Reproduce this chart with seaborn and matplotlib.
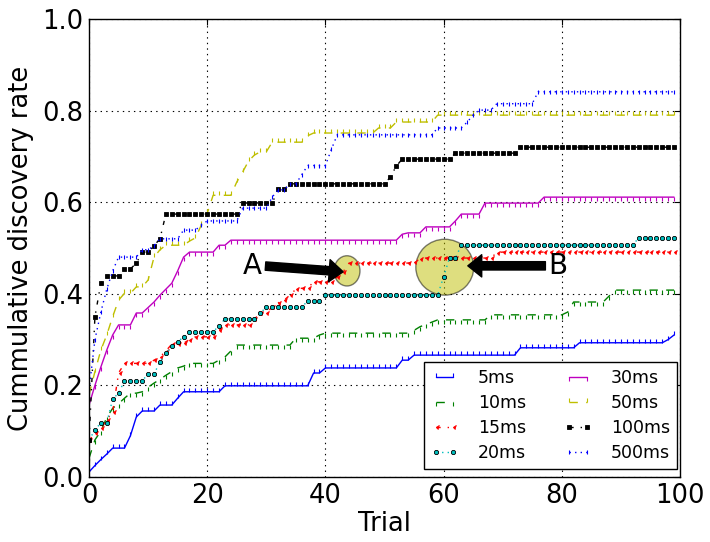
import numpy as np
import pandas as pd
import matplotlib
matplotlib.use("Agg")
import matplotlib.pyplot as plt
from matplotlib.patches import Ellipse
import seaborn as sns

# ---- data -----------------------------------------------------------------
trials = list(range(100))

rate_5ms = [
    0.011, 0.025, 0.038, 0.050, 0.063, 0.063, 0.063, 0.090, 0.131, 0.144,
    0.144, 0.144, 0.157, 0.157, 0.157, 0.172, 0.186, 0.186, 0.186, 0.186,
    0.186, 0.186, 0.186, 0.199, 0.199, 0.199, 0.199, 0.199, 0.199, 0.199,
    0.199, 0.199, 0.199, 0.199, 0.199, 0.199, 0.199, 0.199, 0.227, 0.227,
    0.238, 0.238, 0.238, 0.238, 0.238, 0.238, 0.238, 0.238, 0.238, 0.238,
    0.238, 0.238, 0.238, 0.255, 0.255, 0.266, 0.266, 0.266, 0.266, 0.266,
    0.266, 0.266, 0.266, 0.266, 0.266, 0.266, 0.266, 0.266, 0.266, 0.266,
    0.266, 0.266, 0.266, 0.282, 0.282, 0.282, 0.282, 0.282, 0.282, 0.282,
    0.282, 0.282, 0.282, 0.293, 0.293, 0.293, 0.293, 0.293, 0.293, 0.293,
    0.293, 0.293, 0.293, 0.293, 0.293, 0.293, 0.293, 0.293, 0.300, 0.310,
]
rate_10ms = [
    0.041, 0.081, 0.100, 0.130, 0.150, 0.160, 0.172, 0.183, 0.183, 0.186,
    0.196, 0.205, 0.213, 0.222, 0.230, 0.238, 0.242, 0.248, 0.248, 0.248,
    0.248, 0.248, 0.255, 0.262, 0.275, 0.288, 0.288, 0.288, 0.288, 0.288,
    0.288, 0.288, 0.288, 0.288, 0.288, 0.303, 0.303, 0.303, 0.303, 0.310,
    0.314, 0.314, 0.314, 0.314, 0.314, 0.314, 0.314, 0.314, 0.314, 0.314,
    0.314, 0.314, 0.314, 0.314, 0.314, 0.320, 0.328, 0.333, 0.338, 0.343,
    0.343, 0.343, 0.343, 0.343, 0.343, 0.343, 0.343, 0.343, 0.354, 0.354,
    0.354, 0.354, 0.354, 0.354, 0.354, 0.354, 0.354, 0.354, 0.354, 0.354,
    0.354, 0.360, 0.382, 0.382, 0.382, 0.382, 0.382, 0.382, 0.395, 0.408,
    0.408, 0.408, 0.408, 0.408, 0.408, 0.408, 0.408, 0.408, 0.408, 0.408,
]
rate_15ms = [
    0.080, 0.095, 0.107, 0.125, 0.142, 0.227, 0.248, 0.248, 0.248, 0.248,
    0.248, 0.255, 0.262, 0.275, 0.290, 0.290, 0.292, 0.300, 0.306, 0.306,
    0.306, 0.306, 0.320, 0.332, 0.332, 0.332, 0.332, 0.332, 0.345, 0.358,
    0.358, 0.371, 0.380, 0.386, 0.397, 0.410, 0.412, 0.412, 0.426, 0.426,
    0.426, 0.426, 0.437, 0.448, 0.467, 0.467, 0.467, 0.467, 0.467, 0.467,
    0.467, 0.467, 0.467, 0.467, 0.467, 0.470, 0.475, 0.478, 0.478, 0.478,
    0.478, 0.478, 0.478, 0.478, 0.478, 0.478, 0.478, 0.478, 0.478, 0.490,
    0.491, 0.491, 0.491, 0.491, 0.491, 0.491, 0.491, 0.491, 0.491, 0.491,
    0.491, 0.491, 0.491, 0.491, 0.491, 0.491, 0.491, 0.491, 0.491, 0.491,
    0.491, 0.491, 0.491, 0.491, 0.491, 0.491, 0.491, 0.491, 0.491, 0.491,
]
rate_20ms = [
    0.080, 0.103, 0.118, 0.118, 0.170, 0.183, 0.210, 0.210, 0.210, 0.210,
    0.225, 0.225, 0.251, 0.270, 0.285, 0.295, 0.306, 0.317, 0.317, 0.317,
    0.317, 0.317, 0.330, 0.345, 0.345, 0.345, 0.345, 0.345, 0.345, 0.358,
    0.371, 0.371, 0.371, 0.371, 0.371, 0.371, 0.371, 0.384, 0.384, 0.384,
    0.397, 0.397, 0.397, 0.397, 0.397, 0.397, 0.397, 0.397, 0.397, 0.397,
    0.397, 0.397, 0.397, 0.397, 0.397, 0.397, 0.397, 0.397, 0.397, 0.397,
    0.437, 0.478, 0.478, 0.506, 0.506, 0.506, 0.506, 0.506, 0.506, 0.506,
    0.506, 0.506, 0.506, 0.506, 0.506, 0.506, 0.506, 0.506, 0.506, 0.506,
    0.506, 0.506, 0.506, 0.506, 0.506, 0.506, 0.506, 0.506, 0.506, 0.506,
    0.506, 0.506, 0.506, 0.522, 0.522, 0.522, 0.522, 0.522, 0.522, 0.522,
]
rate_30ms = [
    0.157, 0.200, 0.240, 0.277, 0.310, 0.332, 0.332, 0.332, 0.358, 0.358,
    0.370, 0.382, 0.397, 0.410, 0.423, 0.450, 0.480, 0.491, 0.491, 0.491,
    0.491, 0.491, 0.506, 0.506, 0.517, 0.517, 0.517, 0.517, 0.517, 0.517,
    0.517, 0.517, 0.517, 0.517, 0.517, 0.517, 0.517, 0.517, 0.517, 0.517,
    0.517, 0.517, 0.517, 0.517, 0.517, 0.517, 0.517, 0.517, 0.517, 0.517,
    0.517, 0.517, 0.517, 0.530, 0.533, 0.533, 0.533, 0.546, 0.546, 0.546,
    0.546, 0.546, 0.559, 0.574, 0.574, 0.574, 0.574, 0.598, 0.598, 0.598,
    0.598, 0.598, 0.598, 0.598, 0.598, 0.598, 0.598, 0.611, 0.611, 0.611,
    0.611, 0.611, 0.611, 0.611, 0.611, 0.611, 0.611, 0.611, 0.611, 0.611,
    0.611, 0.611, 0.611, 0.611, 0.611, 0.611, 0.611, 0.611, 0.611, 0.611,
]
rate_50ms = [
    0.180, 0.230, 0.277, 0.310, 0.350, 0.386, 0.401, 0.401, 0.415, 0.415,
    0.430, 0.480, 0.496, 0.506, 0.506, 0.506, 0.506, 0.515, 0.522, 0.550,
    0.576, 0.615, 0.615, 0.615, 0.615, 0.644, 0.666, 0.690, 0.703, 0.710,
    0.710, 0.731, 0.731, 0.731, 0.731, 0.731, 0.731, 0.745, 0.751, 0.751,
    0.751, 0.751, 0.751, 0.751, 0.751, 0.751, 0.751, 0.751, 0.751, 0.762,
    0.762, 0.762, 0.775, 0.775, 0.775, 0.775, 0.775, 0.775, 0.775, 0.790,
    0.790, 0.790, 0.790, 0.790, 0.790, 0.790, 0.790, 0.790, 0.790, 0.790,
    0.790, 0.790, 0.790, 0.790, 0.790, 0.790, 0.790, 0.790, 0.790, 0.790,
    0.790, 0.790, 0.790, 0.790, 0.790, 0.790, 0.790, 0.790, 0.790, 0.790,
    0.790, 0.790, 0.790, 0.790, 0.790, 0.790, 0.790, 0.790, 0.790, 0.790,
]
rate_100ms = [
    0.080, 0.350, 0.423, 0.439, 0.439, 0.439, 0.454, 0.454, 0.467, 0.491,
    0.491, 0.505, 0.520, 0.574, 0.574, 0.574, 0.574, 0.574, 0.574, 0.574,
    0.574, 0.574, 0.574, 0.574, 0.574, 0.574, 0.598, 0.598, 0.598, 0.598,
    0.598, 0.598, 0.628, 0.628, 0.640, 0.640, 0.640, 0.640, 0.640, 0.640,
    0.640, 0.640, 0.640, 0.640, 0.640, 0.640, 0.640, 0.640, 0.640, 0.640,
    0.640, 0.655, 0.679, 0.694, 0.694, 0.694, 0.694, 0.694, 0.694, 0.694,
    0.694, 0.694, 0.707, 0.707, 0.707, 0.707, 0.707, 0.707, 0.707, 0.707,
    0.707, 0.707, 0.707, 0.720, 0.720, 0.720, 0.720, 0.720, 0.720, 0.720,
    0.720, 0.720, 0.720, 0.720, 0.720, 0.720, 0.720, 0.720, 0.720, 0.720,
    0.720, 0.720, 0.720, 0.720, 0.720, 0.720, 0.720, 0.720, 0.720, 0.720,
]
rate_500ms = [
    0.190, 0.300, 0.360, 0.410, 0.450, 0.480, 0.480, 0.480, 0.480, 0.496,
    0.496, 0.505, 0.520, 0.520, 0.520, 0.520, 0.539, 0.539, 0.539, 0.550,
    0.559, 0.559, 0.559, 0.559, 0.559, 0.559, 0.587, 0.587, 0.587, 0.587,
    0.587, 0.611, 0.627, 0.627, 0.640, 0.640, 0.660, 0.680, 0.680, 0.680,
    0.680, 0.715, 0.747, 0.747, 0.747, 0.747, 0.747, 0.747, 0.747, 0.747,
    0.747, 0.747, 0.747, 0.747, 0.747, 0.747, 0.747, 0.747, 0.747, 0.762,
    0.762, 0.762, 0.762, 0.762, 0.775, 0.790, 0.801, 0.801, 0.801, 0.815,
    0.815, 0.815, 0.815, 0.815, 0.815, 0.815, 0.841, 0.841, 0.841, 0.841,
    0.841, 0.841, 0.841, 0.841, 0.841, 0.841, 0.841, 0.841, 0.841, 0.841,
    0.841, 0.841, 0.841, 0.841, 0.841, 0.841, 0.841, 0.841, 0.841, 0.841,
]

series_labels = ["5ms", "10ms", "15ms", "20ms", "30ms", "50ms", "100ms", "500ms"]
series_values = [rate_5ms, rate_10ms, rate_15ms, rate_20ms,
                 rate_30ms, rate_50ms, rate_100ms, rate_500ms]

x_ticks = [0, 20, 40, 60, 80, 100]
y_ticks = [0.0, 0.2, 0.4, 0.6, 0.8, 1.0]

# ---- style ------------------------------------------------------------------
sns.set_style("white")
plt.rcParams.update({
    "font.family": ["DejaVu Sans"],
    "text.color": "black",
    "axes.labelcolor": "black",
    "xtick.color": "black",
    "ytick.color": "black",
    "lines.dashed_pattern": [6, 6],
    "lines.dashdot_pattern": [3, 5, 1, 5],
    "lines.dotted_pattern": [1, 3],
    "lines.scale_dashes": False,
    "xtick.direction": "in",
    "ytick.direction": "in",
    "xtick.top": True,
    "ytick.right": True,
    "xtick.major.size": 4,
    "ytick.major.size": 4,
    "axes.edgecolor": "black",
    "axes.linewidth": 1.0,
})

# per-series appearance: colour, line style, marker, marker size
appearance = {
    "5ms":   ("#0000ff", "-",  2,   3.2),
    "10ms":  ("#008000", "--", 3,   3.2),
    "15ms":  ("#ff0000", "-.", 4,   2.4),
    "20ms":  ("#00bfbf", ":",  "8", 3.6),
    "30ms":  ("#bf00bf", "-",  3,   3.0),
    "50ms":  ("#bfbf00", "--", 2,   3.2),
    "100ms": ("#000000", "-.", "s", 3.0),
    "500ms": ("#0000ff", ":",  "|", 2.6),
}

fig = plt.figure(figsize=(7.10, 5.42), dpi=100)
ax = fig.add_axes([0.1254, 0.12, 0.8323, 0.845])

for label, values in zip(series_labels, series_values):
    color, ls, marker, ms = appearance[label]
    df = pd.DataFrame({"Trial": trials, "rate": values})
    filled = marker in ("8", "s")
    sns.lineplot(data=df, x="Trial", y="rate", ax=ax, color=color,
                 linestyle=ls, linewidth=1.0, marker=marker, markersize=ms,
                 markeredgecolor="black" if filled else color,
                 markerfacecolor=color, markeredgewidth=0.6 if filled else 0.8,
                 label=label, legend=False)

# highlighted regions
ax.add_artist(Ellipse((43.65, 0.450), width=4.4, height=0.066,
                      facecolor="#bfbf00", edgecolor="black", alpha=0.5))
ax.add_artist(Ellipse((60.2, 0.458), width=9.8, height=0.122,
                      facecolor="#bfbf00", edgecolor="black", alpha=0.5))

arrow_kw = dict(facecolor="black", edgecolor="black", width=6, headwidth=16,
                headlength=10, shrink=0.0)
ax.annotate("A", xy=(43.0, 0.448), xytext=(27.7, 0.461), fontsize=20,
            ha="center", va="center", arrowprops=arrow_kw)
ax.annotate("B", xy=(64.1, 0.461), xytext=(79.4, 0.461), fontsize=20,
            ha="center", va="center", arrowprops=arrow_kw)

ax.set_xlim(0, 100)
ax.set_ylim(0, 1.0)
ax.set_xticks(x_ticks)
ax.set_yticks(y_ticks)
ax.set_yticklabels([f"{v:.1f}" for v in y_ticks])
ax.tick_params(labelsize=18.5, pad=4, colors="black")
ax.set_xlabel("Trial", fontsize=18.5, labelpad=2, color="black")
ax.set_ylabel("Cummulative discovery rate", fontsize=18.5, labelpad=6,
              color="black")
ax.grid(True, color="black", linestyle=":", linewidth=0.8)

for s in ax.spines.values():
    s.set_visible(True)
    s.set_color("black")

handles, labels = ax.get_legend_handles_labels()
leg = ax.legend(handles, labels, ncol=2, loc="lower right",
                bbox_to_anchor=(0.995, 0.018), borderaxespad=0.0,
                fontsize=12.5, numpoints=2, handlelength=1.6,
                handletextpad=1.1, columnspacing=2.2, labelspacing=0.4,
                borderpad=0.4, fancybox=False, framealpha=1.0,
                edgecolor="black")
leg.get_frame().set_linewidth(1.0)
for t in leg.get_texts():
    t.set_color("black")

fig.savefig("out.png", dpi=100)
